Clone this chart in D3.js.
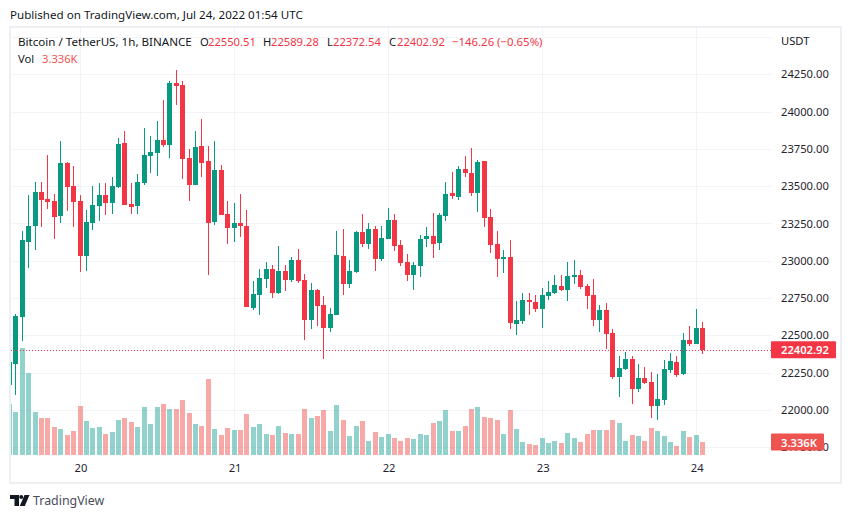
<!DOCTYPE html>
<html>
<head>
<meta charset="utf-8">
<title>BTCUSDT 1h</title>
<script src="https://cdn.jsdelivr.net/npm/d3@7"></script>
<style>
  html, body { margin: 0; padding: 0; background: #fff; }
  svg { display: block; }
  text { font-family: "Noto Sans", sans-serif; font-size: 11.6px; fill: #131722; }
  .num { font-size: 11.2px; }
  .axis .domain { display: none; }
  .axis text { fill: #1f2230; font-size: 11.2px; font-family: "Noto Sans", sans-serif; }
</style>
</head>
<body>
<svg id="chart" width="851" height="518"></svg>
<script>
// hours counted from Jul 20 00:00 UTC, first candle is half hidden by the frame
var firstHour = -11;

var opens = [
  22167, 22308, 22625, 23128, 23235, 23461, 23414, 23401, 23302, 23655, 23501,
  23401, 23034, 23255, 23369, 23441, 23389, 23497, 23789, 23380, 23369, 23524, 23702, 23722,
  23810, 23776, 24192, 24178, 23689, 23508, 23769, 23669, 23260, 23608, 23313, 23220,
  23253, 23233, 22683, 22770, 22877, 22945, 22784, 22931, 22871, 23005, 22871, 22603,
  22804, 22703, 22549, 22636, 23032, 22844, 22924, 23193, 23112, 23213, 23012, 23146,
  23273, 23105, 22991, 22904, 22965, 23146, 23166, 23119, 23300, 23454, 23427, 23615,
  23588, 23454, 23669, 23293, 23112, 23012, 23025, 22576, 22596, 22737, 22723, 22676,
  22764, 22784, 22831, 22804, 22891, 22904, 22831, 22770, 22603, 22670, 22515, 22220,
  22274, 22341, 22140, 22214, 22187, 22026, 22066, 22267, 22321, 22238, 22469, 22442,
  22550.51
];
var highs = [
  22321, 22643, 23199, 23441, 23528, 23528, 23709, 23448, 23803, 23662, 23635,
  23441, 23340, 23501, 23521, 23521, 23561, 23823, 23870, 23521, 23582, 23890, 23836, 23937,
  24078, 24205, 24279, 24205, 23749, 23870, 23950, 23769, 23803, 23642, 23401, 23387,
  23448, 23340, 22864, 22945, 22992, 22971, 23099, 22971, 23025, 23079, 22911, 22851,
  22810, 22764, 22683, 23199, 23213, 23005, 23199, 23313, 23253, 23233, 23233, 23354,
  23313, 23139, 23045, 22991, 23173, 23226, 23320, 23320, 23528, 23595, 23635, 23702,
  23756, 23675, 23669, 23347, 23199, 23072, 23139, 22730, 22784, 22784, 22770, 22817,
  22864, 22904, 22904, 22992, 23005, 22938, 22844, 22878, 22703, 22717, 22542, 22361,
  22388, 22361, 22308, 22287, 22254, 22241, 22334, 22381, 22361, 22516, 22562, 22676,
  22589.28
];
var lows = [
  22167, 22100, 22462, 22954, 23072, 23228, 23349, 23146, 23255, 23336, 23228,
  22927, 22933, 23208, 23269, 23309, 23316, 23490, 23376, 23316, 23316, 23510, 23588, 23568,
  23763, 23689, 24044, 23548, 23401, 23508, 23561, 22904, 23240, 23307, 23112, 23126,
  23159, 22690, 22670, 22636, 22817, 22750, 22777, 22797, 22857, 22851, 22469, 22542,
  22562, 22341, 22522, 22636, 22770, 22817, 22918, 23092, 23079, 22931, 22998, 23146,
  23065, 22965, 22864, 22804, 22891, 23092, 23018, 23072, 23266, 23414, 23407, 23561,
  23434, 23327, 23226, 23052, 22891, 22918, 22542, 22502, 22576, 22636, 22656, 22549,
  22737, 22777, 22797, 22730, 22844, 22810, 22676, 22562, 22522, 22408, 22207, 22086,
  22267, 22039, 22120, 22174, 21946, 21932, 22033, 22247, 22220, 22234, 22428, 22442,
  22372.54
];
var closes = [
  22321, 22629, 23139, 23233, 23461, 23410, 23394, 23296, 23655, 23497, 23396,
  23034, 23260, 23374, 23441, 23389, 23501, 23783, 23376, 23360, 23528, 23709, 23729, 23810,
  23776, 24192, 24172, 23682, 23508, 23763, 23655, 23253, 23608, 23307, 23220, 23253,
  23233, 22690, 22777, 22884, 22945, 22784, 22931, 22871, 23005, 22864, 22603, 22804,
  22696, 22549, 22643, 23038, 22844, 22931, 23193, 23112, 23213, 23012, 23152, 23273,
  23099, 22985, 22904, 22971, 23146, 23166, 23112, 23307, 23447, 23434, 23615, 23588,
  23454, 23662, 23286, 23105, 23012, 23025, 22582, 22603, 22737, 22723, 22676, 22770,
  22790, 22837, 22804, 22898, 22904, 22824, 22764, 22603, 22670, 22509, 22220, 22281,
  22341, 22140, 22214, 22180, 22026, 22073, 22274, 22328, 22234, 22469, 22442, 22549,
  22402.92
];
// volume in thousands of BTC
var volumes = [
  13.08, 11.03, 27.45, 21.03, 11.03, 9.49, 9.49, 7.18, 6.67, 5.13, 6.16,
  12.57, 8.72, 6.93, 7.18, 5.39, 5.90, 8.98, 9.49, 8.46, 7.18, 12.31, 7.95, 12.31,
  13.08, 11.80, 11.80, 14.11, 10.77, 7.95, 7.44, 19.49, 6.67, 5.13, 6.93, 6.41,
  6.41, 10.52, 7.18, 7.95, 5.39, 5.13, 7.44, 5.64, 5.39, 5.39, 11.80, 9.49,
  10.00, 11.54, 6.16, 12.83, 8.98, 4.87, 7.44, 8.72, 3.59, 5.90, 4.62, 5.39,
  4.36, 3.59, 4.36, 4.10, 5.39, 5.13, 8.21, 8.72, 11.54, 6.16, 6.16, 7.44,
  11.80, 12.31, 9.75, 9.49, 8.98, 5.39, 11.54, 6.67, 3.33, 2.82, 2.57, 4.36,
  3.08, 3.59, 3.08, 5.64, 4.36, 3.33, 5.39, 6.41, 6.41, 6.41, 8.98, 8.21,
  3.59, 5.13, 4.87, 3.59, 6.93, 6.16, 4.87, 3.33, 2.31, 6.16, 4.62, 5.13,
  3.336
];

var priceTicks = [24250, 24000, 23750, 23500, 23250, 23000, 22750, 22500, 22250, 22000, 21750];
var gridPrices = [24500].concat(priceTicks);
var dayTicks = [0, 24, 48, 72, 96];
var dayLabels = ["20", "21", "22", "23", "24"];

var lastPrice = 22402.92;
var lastVolume = 3.336;

var UP = "#089981", DOWN = "#f23645";
var VOL_UP = "#26a69a", VOL_DOWN = "#ef5350";
var FRAME = "#eeeff4", GRID = "#f2f3f6";

var svg = d3.select("#chart");

var x = d3.scaleLinear().domain([0, 96]).range([80.5, 696.7]);
var y = d3.scaleLinear().domain([21750, 24500]).range([447.2, 37]);
var yVol = d3.scaleLinear().domain([0, 30]).range([455, 338.1]);

var hours = opens.map((d, i) => firstHour + i);

svg.append("clipPath").attr("id", "plot")
  .append("rect").attr("x", 11).attr("y", 28).attr("width", 760).attr("height", 428);

// frame around the whole widget
svg.append("rect")
  .attr("x", 10).attr("y", 27).attr("width", 831).attr("height", 456)
  .attr("fill", "none").attr("stroke", FRAME).attr("stroke-width", 2);

// Grid
var grid = svg.append("g").attr("shape-rendering", "crispEdges");
grid.selectAll(".h").data(gridPrices).join("line")
  .attr("x1", 11).attr("x2", 771)
  .attr("y1", d => Math.round(y(d)) + 0.5).attr("y2", d => Math.round(y(d)) + 0.5)
  .attr("stroke", GRID);
grid.selectAll(".v").data(dayTicks).join("line")
  .attr("y1", 28).attr("y2", 456)
  .attr("x1", d => Math.floor(x(d)) + 0.5).attr("x2", d => Math.floor(x(d)) + 0.5)
  .attr("stroke", GRID);

var plot = svg.append("g").attr("clip-path", "url(#plot)").attr("shape-rendering", "crispEdges");

// Volume bars sit behind the candles
plot.selectAll(".vol").data(hours).join("rect")
  .attr("class", "vol")
  .attr("x", (h) => Math.floor(x(h) - 2.5))
  .attr("width", 5)
  .attr("y", (h, i) => Math.round(yVol(volumes[i])))
  .attr("height", (h, i) => 455 - Math.round(yVol(volumes[i])))
  .attr("fill", (h, i) => closes[i] >= opens[i] ? VOL_UP : VOL_DOWN)
  .attr("opacity", 0.5);

// Last price line
svg.append("line")
  .attr("x1", 11).attr("x2", 771)
  .attr("y1", Math.round(y(lastPrice)) + 0.5).attr("y2", Math.round(y(lastPrice)) + 0.5)
  .attr("stroke", DOWN).attr("stroke-dasharray", "1 2")
  .attr("shape-rendering", "crispEdges");

// Candles
plot.selectAll(".wick").data(hours).join("rect")
  .attr("class", "wick")
  .attr("x", (h) => Math.floor(x(h) - 0.5))
  .attr("width", 1)
  .attr("y", (h, i) => Math.round(y(highs[i])))
  .attr("height", (h, i) => Math.round(y(lows[i])) - Math.round(y(highs[i])))
  .attr("fill", (h, i) => closes[i] >= opens[i] ? UP : DOWN);

plot.selectAll(".body").data(hours).join("rect")
  .attr("class", "body")
  .attr("x", (h) => Math.floor(x(h) - 2.5))
  .attr("width", 5)
  .attr("y", (h, i) => Math.round(y(Math.max(opens[i], closes[i]))))
  .attr("height", (h, i) => Math.max(1, Math.round(y(Math.min(opens[i], closes[i]))) - Math.round(y(Math.max(opens[i], closes[i])))))
  .attr("fill", (h, i) => closes[i] >= opens[i] ? UP : DOWN);

// Axes
var yAxis = d3.axisRight(y).tickValues(priceTicks).tickSize(0).tickPadding(0).tickFormat(d3.format(".2f"));
svg.append("g").attr("class", "axis").attr("transform", "translate(781,0)").call(yAxis);

var xAxis = d3.axisBottom(x).tickValues(dayTicks).tickSize(0).tickPadding(0).tickFormat((d, i) => dayLabels[i]);
svg.append("g").attr("class", "axis").attr("transform", "translate(0,464)").call(xAxis);

svg.append("text").attr("x", 781).attr("y", 45).attr("class", "num").text("USDT");

// Price and volume tags on the right scale
function tag(yy, label, width, color) {
  svg.append("rect").attr("x", 771).attr("y", yy - 8.5).attr("width", width).attr("height", 17).attr("rx", 1).attr("fill", color);
  svg.append("text").attr("x", 781).attr("y", yy + 4.5).attr("class", "num")
    .style("fill", "#fff").style("font-weight", 600).text(label);
}
tag(y(lastPrice), d3.format(".2f")(lastPrice), 65, DOWN);
tag(yVol(lastVolume), lastVolume + "K", 53, VOL_DOWN);

// Header text
svg.append("text").attr("x", 10).attr("y", 19).text("Published on TradingView.com, Jul 24, 2022 01:54 UTC");
svg.append("text").attr("x", 18).attr("y", 46).style("font-size", "11.6px").text("Bitcoin / TetherUS, 1h, BINANCE");

var legend = [
  ["O", 200], ["H", 263], ["L", 327], ["C", 389]
];
var legendValues = ["22550.51", "22589.28", "22372.54", "22402.92"];
legend.forEach((d, i) => {
  svg.append("text").attr("x", d[1]).attr("y", 46).attr("class", "num").text(d[0]);
  svg.append("text").attr("x", d[1] + (i == 2 ? 6 : 8)).attr("y", 46).attr("class", "num").style("fill", DOWN).text(legendValues[i]);
});
svg.append("text").attr("x", 452).attr("y", 46).style("fill", DOWN).style("font-size", "11.4px").text("\u2212146.26 (\u22120.65%)");

svg.append("text").attr("x", 18).attr("y", 63).attr("class", "num").text("Vol");
svg.append("text").attr("x", 42).attr("y", 63).attr("class", "num").style("fill", VOL_DOWN).text("3.336K");

// TradingView logo
var logo = svg.append("g").attr("transform", "translate(10,495)").attr("fill", "#131722");
logo.append("path").attr("d", "M0 0H9V11H4.5V4H0Z");
logo.append("circle").attr("cx", 11.2).attr("cy", 2).attr("r", 2);
logo.append("path").attr("d", "M14.5 0H19.5L14.8 11H9.8Z");
svg.append("text").attr("x", 33).attr("y", 505).style("font-size", "12.4px").style("fill", "#4a4e5a").text("TradingView");
</script>
</body>
</html>
